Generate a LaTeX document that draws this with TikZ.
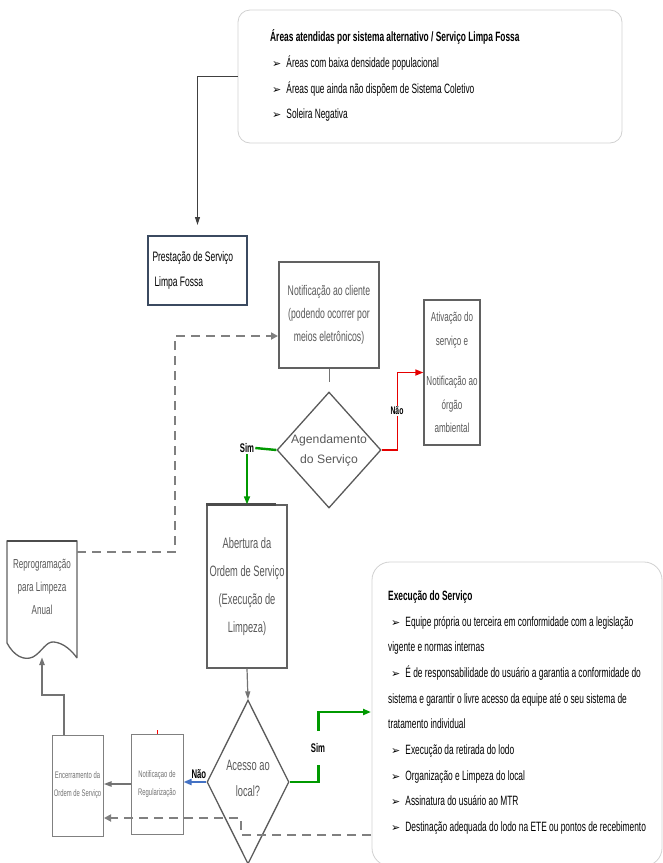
\documentclass[tikz,border=0pt]{standalone}
\usepackage{fontspec}
\setmainfont{Liberation Sans}
\newfontfamily\narrowfont{Liberation Sans}[FakeStretch=0.62]
\newfontfamily\symbolfont{DejaVu Sans}
\usetikzlibrary{
    positioning,
    arrows.meta,
    shapes.geometric
    }
\newcommand{\bul}{{\symbolfont\fontsize{11}{10}\selectfont ➢}\hspace{5pt}}

\begin{document}
\begin{tikzpicture}[x=1pt, y=-1pt]
\tikzset{infobox/.style =
        {
            rectangle,
            rounded corners=12pt,
            draw=black!18,
            line width=0.8pt,
            inner sep=0pt
        }
}

\tikzset{infotext/.style =
        {
            anchor=west,
            align=flush left,
            inner sep=0pt,
            font=\narrowfont\fontsize{13.5}{26}\selectfont
        }
}

\tikzset{flowbox/.style =
        {
            rectangle,
            draw=black!62,
            line width=1.3pt,
            fill=white,
            text=black!65,
            align=center,
            inner sep=0pt,
            font=\narrowfont\fontsize{14}{23}\selectfont
        }
}

\tikzset{smallbox/.style =
        {
            flowbox,
            draw=black!50,
            line width=1pt,
            text=black!55,
            font=\narrowfont\fontsize{9.5}{18}\selectfont
        }
}

\tikzset{decision/.style =
        {
            shape=diamond,
            draw=black!65,
            line width=1.3pt,
            inner sep=0pt
        }
}

\tikzset{dtext/.style =
        {
            align=center,
            inner sep=0pt,
            text=black!65
        }
}

\tikzset{choice/.style =
        {
            inner sep=1pt,
            font=\narrowfont\bfseries\fontsize{12.5}{12}\selectfont
        }
}

\tikzset{yes/.style = {
            draw=green!60!black,
            line width=2.4pt,
            -{Triangle[length=8pt, width=6pt]}
        }
}

\tikzset{no/.style = {
            draw=red!90!black,
            line width=1.6pt,
            -{Triangle[length=8pt, width=6pt]}
        }
}

\tikzset{flow/.style = {
            draw=black!55,
            line width=1.2pt,
            -{Triangle[length=8pt, width=5pt]}
        }
}

\tikzset{retry/.style = {
        draw=black!50,
        line width=2.6pt,
        dash pattern=on 9pt off 6pt,
        -{Triangle[length=7pt, width=7pt]}
    }
}

\useasboundingbox (0,0) rectangle (663,863);

% top note
\node[infobox, minimum width=384pt, minimum height=133pt] (areas) at (430,76.5) {};
\node[infotext, font=\narrowfont\bfseries\fontsize{13.5}{26}\selectfont] (areas-title) at (270,37)
    {Áreas atendidas por sistema alternativo / Serviço Limpa Fossa};
\foreach \i / \txt in
    {1/Áreas com baixa densidade populacional,
        2/Áreas que ainda não dispõem de Sistema Coletivo,
        3/Soleira Negativa}
\node[infotext] (areas-\i) at (272,37+26*\i) {\bul\txt};

\node[flowbox, draw={rgb,255:red,59;green,74;blue,96}, line width=2pt, text=black,
    minimum width=99pt, minimum height=69pt, text width=90pt, align=flush left,
    font=\narrowfont\fontsize{13.7}{25}\selectfont] (prest) at (197.5,270.5)
    {Prestação de Serviço\\\hspace*{2pt}Limpa Fossa};

\node[flowbox, minimum width=100pt, minimum height=106pt] (notif) at (329,315)
    {Notificação ao cliente\\(podendo ocorrer por\\meios eletrônicos)};

\node[decision, minimum width=104pt, minimum height=116pt] (agend) at (329,450) {};
\node[dtext, font=\fontsize{12.2}{20}\selectfont] (agend-text) at (agend.center)
    {Agendamento\\do Serviço};

\node[flowbox, minimum width=56pt, minimum height=145pt, font=\narrowfont\fontsize{13}{23.5}\selectfont] (ativ) at (452,372.5)
    {Ativação do\\serviço e\\[17pt]Notificação ao\\órgão\\ambiental};

\node[flowbox, minimum width=80pt, minimum height=163pt,
    font=\narrowfont\fontsize{15}{28}\selectfont] (abert) at (247,586.5)
    {Abertura da\\Ordem de Serviço\\(Execução de\\Limpeza)};
\draw[line width=2.5pt, black!70] (abert.north west) -- ([xshift=-12pt]abert.north east);

\node[decision, minimum width=82pt, minimum height=164pt] (acesso) at (248,782) {};
\node[dtext, font=\narrowfont\fontsize{15}{26}\selectfont] (acesso-text) at (248,778)
    {Acesso ao\\local?};

\node[smallbox, minimum width=52pt, minimum height=100pt] (regul) at (157,784)
    {Notificaçao de\\Regularização};
\node[smallbox, minimum width=51pt, minimum height=101pt] (encer) at (77.5,785.5)
    {Encerramento da\\Ordem de Serviço};

% document shape
\draw[black!62, line width=1.3pt, fill=white] (77,658) -- (77,541) -- (7,541) -- (7,643)
    .. controls (14,656) and (24,661) .. (33,657)
    .. controls (42,652) and (46,641) .. (54,642)
    .. controls (64,643) and (72,651) .. (77,658);
\draw[line width=2.5pt, black!70] (7,541) -- (77,541);
\node[dtext, font=\narrowfont\fontsize{13}{23}\selectfont] (reprog) at (42,587)
    {Reprogramação\\para Limpeza\\Anual};

% execution note
\node[infobox, rounded corners=18pt, minimum width=290pt, minimum height=304pt] (exec) at (517,714) {};
\node[infotext, font=\narrowfont\fontsize{13.5}{25.7}\selectfont] (exec-text) at (388,712.5)
    {\textbf{Execução do Serviço}\\
    \hspace*{3pt}\bul Equipe própria ou terceira em conformidade com a legislação\\
    vigente e normas internas\\
    \hspace*{3pt}\bul É de responsabilidade do usuário a garantia a conformidade do\\
    sistema e garantir o livre acesso da equipe até o seu sistema de\\
    tratamento individual\\
    \hspace*{3pt}\bul Execução da retirada do lodo\\
    \hspace*{3pt}\bul Organização e Limpeza do local\\
    \hspace*{3pt}\bul Assinatura do usuário ao MTR\\
    \hspace*{3pt}\bul Destinação adequada do lodo na ETE ou pontos de recebimento};

\coordinate (exec-in) at (371,712);
\coordinate (exec-out) at (371,835);
\coordinate (encer-in) at (104,818);
\coordinate (reprog-out) at (77,552);
\coordinate (reprog-in) at (42,657);
\coordinate (notif-in) at (278,336);

% connectors
\draw[flow, draw=black!75, line width=0.9pt, shorten >=10pt] (areas.west) -| (prest.north);
\draw[draw=black!55, line width=0.9pt, shorten >=9pt] (notif.south) -- (agend.north);

\node[choice] (agend-sim) at (247,448) {Sim};
\draw[yes, -] (agend.west) -- (agend-sim.east);
\draw[yes, line width=1.6pt] (agend-sim.south) -- (abert.north);

\draw[no] (agend.east) -- ++(16,0) |- (ativ.west);
\node[choice, fill=white, font=\narrowfont\bfseries\fontsize{11}{10}\selectfont] (agend-nao) at (397,411) {Não};

\draw[flow] (abert.south) -- (acesso.north);

\draw[yes] (acesso.east) -- ++(29,0) |- (exec-in);
\node[choice, fill=white, inner ysep=12pt] (acesso-sim) at (318,748) {Sim};

\draw[yes, draw={rgb,255:red,68;green,114;blue,196}, line width=2.2pt] (acesso.west) -- (acesso.west -| regul.east);
\node[choice, above=2pt of acesso.west, anchor=south east, xshift=1pt] (acesso-nao) {Não};

\draw[flow, line width=2.6pt] (regul.west) -- (regul.west -| encer.east);
\draw[red, line width=0.8pt] (regul.north) -- ++(0,-4);

\draw[flow, line width=2pt] ([xshift=-14pt]encer.north) -- ++(0,-40) -| (reprog-in);

\draw[retry] (reprog-out) -- ++(98,0) |- (notif-in);
\draw[retry] (exec-out) -- ++(-130,0) |- (encer-in);

\end{tikzpicture}
\end{document}
